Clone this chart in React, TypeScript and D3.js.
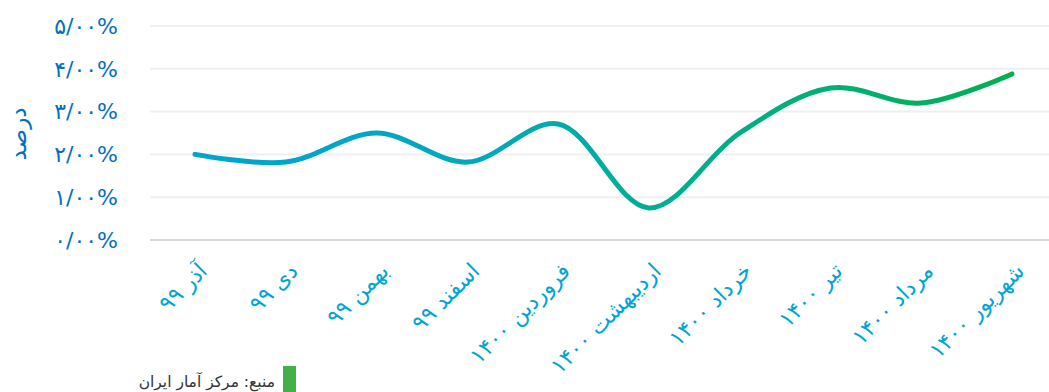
import React from "react";
import * as d3 from "d3";

const categories = ["آذر ۹۹", "دی ۹۹", "بهمن ۹۹", "اسفند ۹۹", "فروردین ۱۴۰۰", "اردیبهشت ۱۴۰۰", "خرداد ۱۴۰۰", "تیر ۱۴۰۰", "مرداد ۱۴۰۰", "شهریور ۱۴۰۰"];
const values = [2.0, 1.82, 2.5, 1.82, 2.71, 0.75, 2.5, 3.55, 3.2, 3.88];
const yTicks = [0, 1, 2, 3, 4, 5];
const yTitle = "درصد";
const sourceText = "منبع: مرکز آمار ایران";

const W = 1049;
const H = 392;

const toFa = (s: string) => s.replace(/[0-9]/g, (d) => "۰۱۲۳۴۵۶۷۸۹"[+d]);
const fmt = (v: number) => toFa(v.toFixed(2).replace(".", "/")) + "%";

export default function App() {
  const x = d3.scalePoint<string>().domain(categories).range([195, 1012]);
  const y = d3.scaleLinear().domain([0, 5]).range([240, 26]);
  const line = d3
    .line<number>()
    .x((_, i) => x(categories[i]) as number)
    .y((d) => y(d))
    .curve(d3.curveCatmullRom.alpha(0.5));
  const font = "'DejaVu Sans', sans-serif";
  return (
    <svg width={W} height={H} style={{ position: "absolute", left: 0, top: 0, background: "#fff" }} fontFamily={font}>
      <defs>
        <linearGradient id="lg" gradientUnits="userSpaceOnUse" x1={195} y1={0} x2={1012} y2={0}>
          <stop offset="0%" stopColor="#00A4CF" />
          <stop offset="35%" stopColor="#00A8BE" />
          <stop offset="55%" stopColor="#00AE96" />
          <stop offset="100%" stopColor="#00B050" />
        </linearGradient>
      </defs>
      {yTicks.map((t) => (
        <g key={t}>
          <line x1={150} x2={W} y1={y(t)} y2={y(t)} stroke={t === 0 ? "#d9d9d9" : "#efefef"} strokeWidth={2} />
          <text x={118} y={y(t)} dy="0.35em" textAnchor="end" fill="#0070C0" fontSize={22} letterSpacing={2} style={{ direction: "ltr" }}>
            {fmt(t)}
          </text>
        </g>
      ))}
      <text transform="translate(18,134) rotate(-90)" textAnchor="middle" dy="0.35em" fill="#0070C0" fontSize={23}>
        {yTitle}
      </text>
      <path d={line(values) || ""} fill="none" stroke="url(#lg)" strokeWidth={5} strokeLinecap="round" strokeLinejoin="round" />
      {categories.map((c) => (
        <text
          key={c}
          transform={`translate(${(x(c) as number) + 8},267) rotate(-45)`}
          textAnchor="end"
          dy="0.35em"
          fill="#00A5D3"
          fontSize={22}
        >
          {c}
        </text>
      ))}
      <rect x={283} y={366} width={13} height={26} fill="#45B04A" />
      <text x={275} y={387} textAnchor="end" fill="#333" fontSize={15.5}>
        {sourceText}
      </text>
    </svg>
  );
}
